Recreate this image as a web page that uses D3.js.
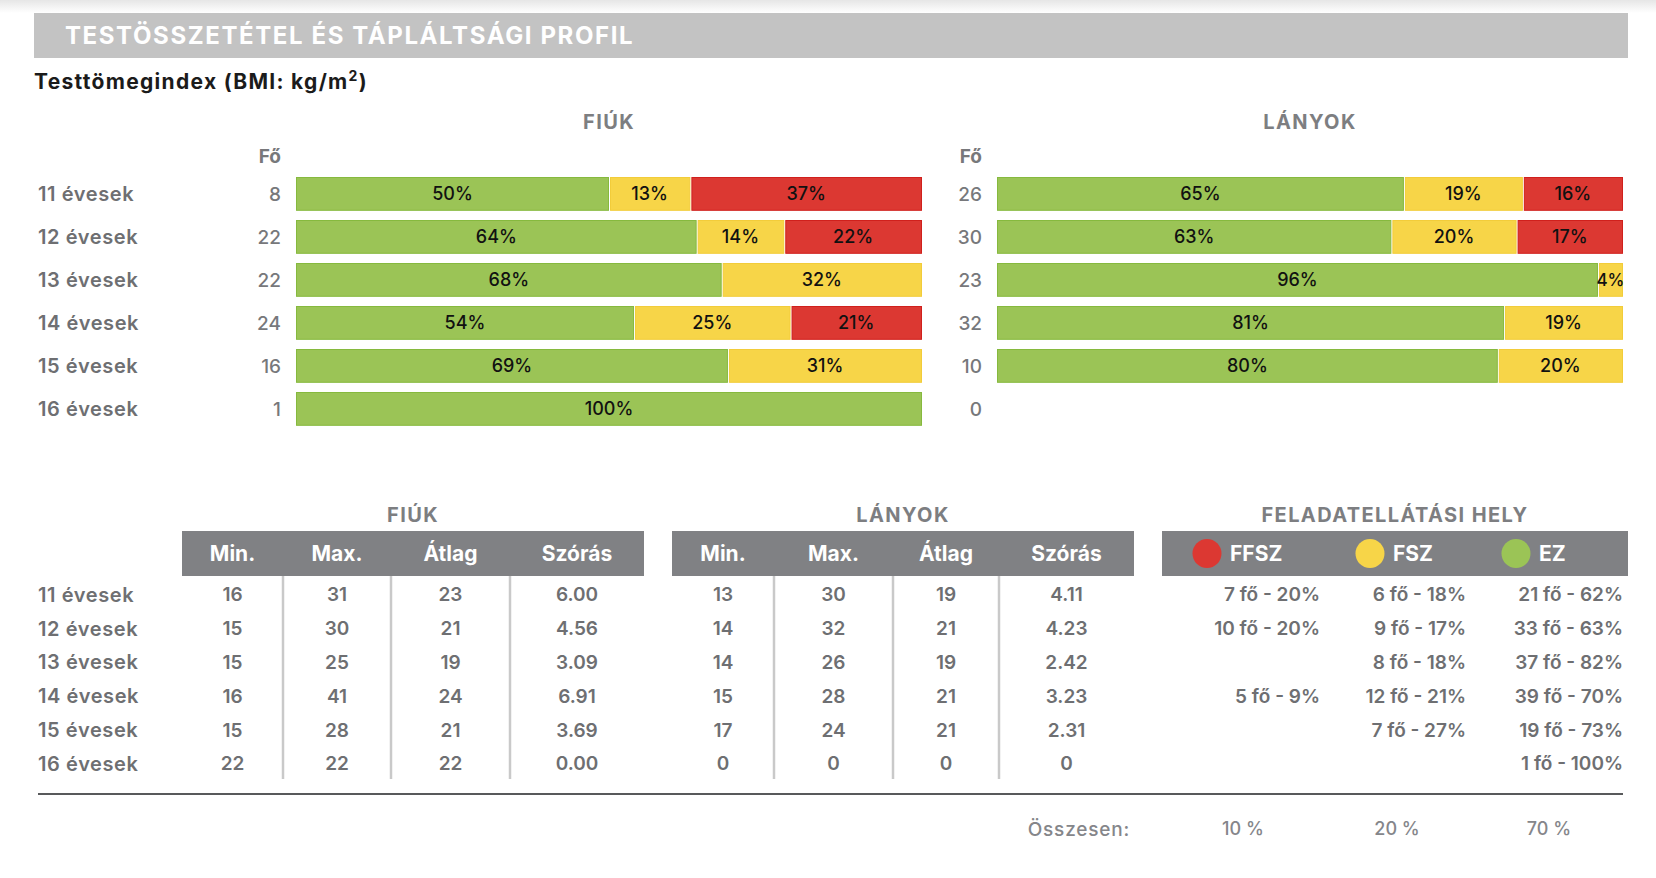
<!DOCTYPE html>
<html>
<head>
<meta charset="utf-8">
<script src="https://cdn.jsdelivr.net/npm/d3@7"></script>
<style>
  html, body { margin: 0; padding: 0; background: #fff; }
  svg text { font-family: Inter, "Open Sans", sans-serif; }
</style>
</head>
<body>
<svg id="chart"></svg>
<script>
// age groups (rows)
const ageGroups = ["11 évesek", "12 évesek", "13 évesek", "14 évesek", "15 évesek", "16 évesek"];

// BMI categories, percent per row
const boysCount = [8, 22, 22, 24, 16, 1];
const boysEZ = [50, 64, 68, 54, 69, 100];
const boysFSZ = [13, 14, 32, 25, 31, 0];
const boysFFSZ = [37, 22, 0, 21, 0, 0];

const girlsCount = [26, 30, 23, 32, 10, 0];
const girlsEZ = [65, 63, 96, 81, 80, 0];
const girlsFSZ = [19, 20, 4, 19, 20, 0];
const girlsFFSZ = [16, 17, 0, 0, 0, 0];

// BMI statistics
const statHeaders = ["Min.", "Max.", "Átlag", "Szórás"];
const boysMin = [16, 15, 15, 16, 15, 22];
const boysMax = [31, 30, 25, 41, 28, 22];
const boysAvg = [23, 21, 19, 24, 21, 22];
const boysSd = ["6.00", "4.56", "3.09", "6.91", "3.69", "0.00"];
const girlsMin = [13, 14, 14, 15, 17, 0];
const girlsMax = [30, 32, 26, 28, 24, 0];
const girlsAvg = [19, 21, 19, 21, 21, 0];
const girlsSd = ["4.11", "4.23", "2.42", "3.23", "2.31", "0"];

// feladatellátási hely
const locHeaders = ["FFSZ", "FSZ", "EZ"];
const locFFSZ = ["7 fő - 20%", "10 fő - 20%", "", "5 fő - 9%", "", ""];
const locFSZ = ["6 fő - 18%", "9 fő - 17%", "8 fő - 18%", "12 fő - 21%", "7 fő - 27%", ""];
const locEZ = ["21 fő - 62%", "33 fő - 63%", "37 fő - 82%", "39 fő - 70%", "19 fő - 73%", "1 fő - 100%"];
const totals = ["10 %", "20 %", "70 %"];

const W = 1656, H = 878;
const COLORS = { EZ: "#9bc456", FSZ: "#f7d548", FFSZ: "#dc3832" };
const STROKES = { EZ: "#86b93e", FSZ: "#f2cc3a", FFSZ: "#d0201c" };
const GRAY_TXT = "#6e6f72";
const BAND = "#808184";

const svg = d3.select("#chart").attr("width", W).attr("height", H);

// faint shadow above the title band
const grad = svg.append("defs").append("linearGradient")
    .attr("id", "topShade").attr("x1", 0).attr("x2", 0).attr("y1", 0).attr("y2", 1);
grad.append("stop").attr("offset", "0%").attr("stop-color", "#e6e6e6");
grad.append("stop").attr("offset", "100%").attr("stop-color", "#ffffff");
svg.append("rect").attr("x", 0).attr("y", 0).attr("width", W).attr("height", 13).attr("fill", "url(#topShade)");

// title band
svg.append("rect").attr("x", 34).attr("y", 13).attr("width", 1594).attr("height", 45).attr("fill", "#c3c3c3");
svg.append("text").attr("x", 65).attr("y", 44)
    .attr("font-size", 24).attr("font-weight", 700).attr("letter-spacing", 1.6).attr("fill", "#fff")
    .text("TESTÖSSZETÉTEL ÉS TÁPLÁLTSÁGI PROFIL");

const sub = svg.append("text").attr("x", 34).attr("y", 89)
    .attr("font-size", 21).attr("font-weight", 700).attr("letter-spacing", 1.3).attr("fill", "#1b1b1b");
sub.append("tspan").text("Testtömegindex (BMI: kg/m");
sub.append("tspan").attr("dy", -8).attr("font-size", 14).text("2");
sub.append("tspan").attr("dy", 8).text(")");

// ---------- stacked bars ----------
const y = d3.scaleBand()
    .domain(ageGroups)
    .range([172.4, 172.4 + 6 * 43])
    .paddingInner(0.214)
    .paddingOuter(0.107);

function sectionTitle(x, yPos, label) {
    svg.append("text").attr("x", x).attr("y", yPos)
        .attr("text-anchor", "middle").attr("font-size", 20).attr("font-weight", 700)
        .attr("letter-spacing", 1.4).attr("fill", "#7d7e81").text(label);
}

function drawBars(x0, x1, countX, title, counts, ez, fsz, ffsz, showLabels) {
    const x = d3.scaleLinear().domain([0, 100]).range([x0, x1]);
    const g = svg.append("g");

    sectionTitle((x0 + x1) / 2, 129, title);

    g.append("text").attr("x", countX).attr("y", 163)
        .attr("text-anchor", "end").attr("font-size", 19).attr("font-weight", 700)
        .attr("fill", "#77787b").text("Fő");

    if (showLabels) {
        g.selectAll(".row-label").data(ageGroups).enter().append("text")
            .attr("x", 38).attr("y", d => y(d) + y.bandwidth() / 2)
            .attr("dy", "0.36em").attr("font-size", 20).attr("font-weight", 600)
            .attr("letter-spacing", 0.6).attr("fill", GRAY_TXT).text(d => d);
    }

    g.selectAll(".count").data(counts).enter().append("text")
        .attr("x", countX).attr("y", (d, i) => y(ageGroups[i]) + y.bandwidth() / 2)
        .attr("dy", "0.36em").attr("text-anchor", "end")
        .attr("font-size", 19).attr("font-weight", 500).attr("fill", "#77787b")
        .text(d => d);

    const segs = [];
    ageGroups.forEach((a, i) => {
        let start = 0;
        [["EZ", ez[i]], ["FSZ", fsz[i]], ["FFSZ", ffsz[i]]].forEach(([k, v]) => {
            if (v > 0) segs.push({ age: a, key: k, start, value: v });
            start += v;
        });
    });

    g.selectAll(".seg").data(segs).enter().append("rect")
        .attr("x", d => x(d.start) + (d.start > 0 ? 1.5 : 0.5))
        .attr("y", d => y(d.age) + 0.5)
        .attr("width", d => x(d.start + d.value) - x(d.start) - (d.start > 0 ? 2 : 1))
        .attr("height", y.bandwidth() - 1)
        .attr("fill", d => COLORS[d.key])
        .attr("stroke", d => STROKES[d.key])
        .attr("stroke-width", 1);

    g.selectAll(".pct").data(segs).enter().append("text")
        .attr("x", d => x(d.start + d.value / 2))
        .attr("y", d => y(d.age) + y.bandwidth() / 2)
        .attr("dy", "0.36em").attr("text-anchor", "middle")
        .attr("font-size", d => d.value < 6 ? 17 : 18).attr("font-weight", 500).attr("fill", "#111")
        .text(d => d.value + "%");
}

drawBars(296, 922, 281, "FIÚK", boysCount, boysEZ, boysFSZ, boysFFSZ, true);
drawBars(997, 1623, 982, "LÁNYOK", girlsCount, girlsEZ, girlsFSZ, girlsFFSZ, false);

// ---------- tables ----------
const ty = d3.scaleBand().domain(ageGroups).range([577.7, 577.7 + 6 * 33.8]);
const headTop = 531, headH = 45;

svg.selectAll(".trow").data(ageGroups).enter().append("text")
    .attr("x", 38).attr("y", d => ty(d) + ty.bandwidth() / 2)
    .attr("dy", "0.36em").attr("font-size", 20).attr("font-weight", 600)
    .attr("letter-spacing", 0.6).attr("fill", GRAY_TXT).text(d => d);

function drawStats(edges, title, cols) {
    const g = svg.append("g");
    const left = edges[0], right = edges[edges.length - 1];
    sectionTitle((left + right) / 2, 522, title);
    g.append("rect").attr("x", left).attr("y", headTop).attr("width", right - left).attr("height", headH)
        .attr("fill", BAND);

    // column separators
    g.selectAll(".sep").data(edges.slice(1, -1)).enter().append("line")
        .attr("x1", d => d).attr("x2", d => d)
        .attr("y1", headTop + headH).attr("y2", 779)
        .attr("stroke", "#c9c9c9").attr("stroke-width", 2.5);

    statHeaders.forEach((h, c) => {
        const cx = (edges[c] + edges[c + 1]) / 2;
        g.append("text").attr("x", cx).attr("y", headTop + headH / 2)
            .attr("dy", "0.36em").attr("text-anchor", "middle")
            .attr("font-size", 21).attr("font-weight", 700).attr("fill", "#fff").text(h);
        g.selectAll(".v" + c).data(cols[c]).enter().append("text")
            .attr("x", cx).attr("y", (d, i) => ty(ageGroups[i]) + ty.bandwidth() / 2)
            .attr("dy", "0.36em").attr("text-anchor", "middle")
            .attr("font-size", 19).attr("font-weight", 600).attr("fill", GRAY_TXT).text(d => d);
    });
}

drawStats([182, 283, 391, 510, 644], "FIÚK", [boysMin, boysMax, boysAvg, boysSd]);
drawStats([672, 774, 893, 999, 1134], "LÁNYOK", [girlsMin, girlsMax, girlsAvg, girlsSd]);

// feladatellátási hely
const locG = svg.append("g");
sectionTitle(1395, 522, "FELADATELLÁTÁSI HELY");
locG.append("rect").attr("x", 1162).attr("y", headTop).attr("width", 466).attr("height", headH).attr("fill", BAND);

const dotX = [1207, 1370, 1516];
const locRight = [1320, 1466, 1623];
const locCols = [locFFSZ, locFSZ, locEZ];
locHeaders.forEach((h, c) => {
    locG.append("circle").attr("cx", dotX[c]).attr("cy", headTop + headH / 2).attr("r", 14.5)
        .attr("fill", COLORS[h]);
    locG.append("text").attr("x", dotX[c] + 23).attr("y", headTop + headH / 2)
        .attr("dy", "0.36em").attr("font-size", 21).attr("font-weight", 700).attr("fill", "#fff").text(h);
    locG.selectAll(".l" + c).data(locCols[c]).enter().append("text")
        .attr("x", locRight[c]).attr("y", (d, i) => ty(ageGroups[i]) + ty.bandwidth() / 2)
        .attr("dy", "0.36em").attr("text-anchor", "end")
        .attr("font-size", 19).attr("font-weight", 600).attr("fill", GRAY_TXT).text(d => d);
});

// bottom rule and totals
svg.append("line").attr("x1", 38).attr("x2", 1623).attr("y1", 794).attr("y2", 794)
    .attr("stroke", "#58595b").attr("stroke-width", 2);
svg.append("text").attr("x", 1130).attr("y", 829).attr("dy", "0.36em").attr("text-anchor", "end")
    .attr("font-size", 19).attr("font-weight", 500).attr("letter-spacing", 0.8)
    .attr("fill", "#85868a").text("Összesen:");
const totX = [1243, 1397, 1549];
svg.selectAll(".tot").data(totals).enter().append("text")
    .attr("x", (d, i) => totX[i]).attr("y", 829).attr("dy", "0.36em").attr("text-anchor", "middle")
    .attr("font-size", 18).attr("font-weight", 500).attr("fill", "#85868a").text(d => d);
</script>
</body>
</html>
